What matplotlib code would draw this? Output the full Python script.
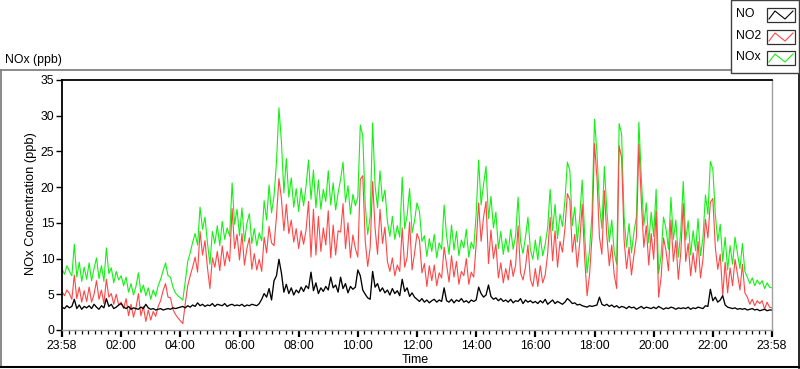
import numpy as np
import matplotlib
matplotlib.use('Agg')
import matplotlib.pyplot as plt
from matplotlib.lines import Line2D
from matplotlib.patches import Rectangle
from matplotlib.ticker import MultipleLocator, AutoMinorLocator

plt.rcParams['font.family'] = ['Liberation Sans', 'DejaVu Sans']

W, H = 800, 369

# readings every 5 minutes, one row per hour, starting at 23:58
no = [
    3.2, 3.0, 3.4, 3.1, 3.3, 4.3, 3.0, 3.5, 2.9, 3.3, 3.1, 3.4,
    3.0, 3.6, 3.2, 2.9, 3.4, 3.1, 4.4, 3.3, 3.6, 3.0, 3.2, 3.5,
    3.7, 3.2, 3.0, 3.3, 2.9, 3.1, 3.0, 2.9, 3.2, 3.0, 3.6, 3.1,
    2.9, 3.0, 2.8, 2.9, 3.0, 2.8, 2.9, 3.0, 2.9, 3.1, 3.0, 3.1,
    3.2, 3.3, 3.1, 3.4, 3.2, 3.5, 3.3, 3.8, 3.4, 3.6, 3.3, 3.5,
    3.4, 3.7, 3.3, 3.6, 3.5, 3.4, 3.7, 3.3, 3.5, 3.6, 3.4, 3.5,
    3.4, 3.6, 3.3, 3.5, 3.4, 3.6, 3.5, 3.4, 3.7, 4.3, 5.1, 4.6,
    5.8, 4.2, 6.9, 7.6, 9.9, 8.0, 5.3, 6.4, 5.1, 5.9, 4.9, 5.6,
    5.2, 6.0, 5.4, 6.2, 5.8, 8.1, 5.5, 6.6, 5.1, 5.9, 5.4, 6.1,
    5.6, 7.4, 5.9, 6.3, 5.3, 7.4, 5.8, 6.5, 5.2, 6.1, 5.7, 6.0,
    8.4, 7.6, 5.6, 5.0, 4.5, 4.3, 8.2, 6.0, 6.5, 5.4, 5.9, 5.2,
    5.6, 4.9, 5.8, 5.1, 5.5, 4.8, 7.1, 5.4, 5.9, 4.7, 5.2, 4.6,
    4.3, 4.0, 4.4, 3.9, 4.2, 3.8, 4.1, 4.3, 3.9, 4.2, 4.0, 5.9,
    4.1, 3.9, 4.3, 3.8, 4.2, 4.0, 4.4, 3.9, 4.1, 3.8, 4.2, 4.0,
    4.2, 6.0, 5.1, 4.6, 4.9, 6.3, 4.7, 4.3, 4.5, 4.1, 4.4, 4.0,
    4.2, 3.9, 4.3, 3.8, 4.1, 4.0, 4.4, 3.7, 4.2, 3.9, 4.1, 3.8,
    4.0, 3.7, 4.1, 3.8, 4.3, 3.6, 3.9, 4.2, 3.7, 4.0, 3.8, 3.6,
    3.9, 4.4, 4.1, 3.7, 3.8, 3.5, 3.6, 3.4, 3.3, 3.2, 3.4, 3.3,
    3.4, 3.5, 4.6, 3.6, 3.4, 3.6, 3.3, 3.5, 3.2, 3.4, 3.1, 3.3,
    3.2, 3.0, 3.3, 3.1, 3.2, 2.9, 3.1, 3.3, 3.0, 3.2, 3.1, 3.0,
    3.2, 3.0, 3.3, 3.1, 2.9, 3.1, 3.0, 3.2, 3.1, 2.9, 3.1, 3.0,
    3.1, 3.0, 3.2, 2.9, 3.1, 3.0, 3.2, 3.1, 3.0, 3.4, 3.3, 5.7,
    4.1, 4.6, 3.9, 4.2, 4.8, 3.5, 3.2, 3.1, 3.0, 3.1, 2.9, 3.0,
    2.9, 3.0, 2.8, 2.9, 3.0, 2.8, 2.9, 2.7, 2.8, 2.9, 2.7, 2.8,
    2.8,
]
no2 = [
    5.4, 4.8, 5.6, 5.1, 4.3, 7.7, 4.4, 6.0, 3.9, 5.5, 4.0, 6.0,
    3.9, 5.0, 6.9, 4.3, 5.6, 3.7, 7.1, 4.6, 5.1, 3.6, 5.0, 3.5,
    3.9, 3.0, 4.4, 2.0, 3.6, 1.8, 3.1, 5.1, 2.0, 3.3, 1.2, 2.8,
    1.4, 2.6, 1.9, 3.3, 4.1, 5.5, 6.5, 4.6, 4.5, 2.9, 2.2, 1.7,
    1.3, 0.9, 3.7, 6.2, 7.6, 8.8, 10.2, 8.1, 13.8, 10.5, 12.5, 8.7,
    5.8, 10.1, 8.8, 11.0, 8.3, 11.8, 9.0, 11.0, 9.6, 17.0, 11.4, 13.4,
    9.8, 13.5, 9.1, 11.4, 12.9, 8.5, 10.7, 8.4, 9.9, 8.2, 13.0, 10.8,
    14.5, 12.2, 11.8, 15.9, 21.2, 18.4, 13.9, 17.6, 13.5, 15.4, 12.3, 14.2,
    11.4, 13.9, 12.0, 14.0, 18.0, 10.2, 16.9, 10.5, 15.9, 11.0, 14.3, 11.9,
    16.7, 10.1, 14.7, 10.5, 13.9, 13.7, 17.7, 11.4, 15.0, 10.1, 13.3, 11.4,
    10.2, 21.1, 21.6, 12.5, 8.9, 11.5, 20.8, 14.2, 10.6, 16.9, 12.1, 14.4,
    9.6, 8.2, 10.1, 7.6, 9.1, 8.2, 14.3, 8.8, 10.2, 15.1, 8.4, 10.7,
    13.5, 12.6, 8.0, 9.3, 6.1, 9.0, 6.9, 9.1, 6.2, 8.0, 7.3, 11.6,
    9.1, 6.7, 10.4, 7.4, 9.6, 6.4, 8.2, 7.6, 10.0, 6.4, 8.1, 7.4,
    12.0, 17.8, 12.4, 15.8, 18.0, 9.3, 14.0, 10.0, 12.0, 7.3, 9.4, 6.6,
    8.6, 7.0, 9.8, 7.5, 9.1, 14.6, 8.0, 7.0, 8.8, 11.9, 7.1, 6.1,
    8.6, 6.1, 9.0, 6.6, 7.7, 10.7, 15.8, 9.7, 13.9, 8.8, 12.4, 10.9,
    14.2, 19.1, 18.2, 10.9, 13.4, 8.8, 12.2, 17.6, 10.1, 4.8, 7.8, 13.1,
    26.1, 21.3, 13.0, 10.6, 19.5, 13.2, 9.0, 11.9, 7.7, 5.8, 25.8, 24.1,
    12.6, 8.6, 11.6, 7.7, 10.5, 13.0, 26.0, 18.0, 11.6, 14.6, 9.1, 13.5,
    9.9, 16.7, 4.6, 7.3, 12.9, 11.1, 8.3, 15.4, 9.6, 12.5, 7.1, 10.8,
    17.7, 9.6, 12.1, 7.6, 10.8, 8.1, 12.4, 7.3, 9.9, 15.5, 12.9, 17.9,
    18.4, 11.6, 8.5, 10.6, 4.8, 9.5, 5.2, 8.7, 6.2, 9.9, 7.8, 5.6,
    9.2, 5.2, 4.6, 3.6, 4.3, 3.4, 4.1, 3.7, 4.1, 2.9, 3.9, 3.2,
    3.1,
]
nox = [
    8.6, 7.8, 9.0, 8.2, 7.6, 12.0, 7.4, 9.5, 6.8, 8.8, 7.1, 9.4,
    6.9, 8.6, 10.1, 7.2, 9.0, 6.8, 11.5, 7.9, 8.7, 6.6, 8.2, 7.0,
    7.6, 6.2, 7.4, 5.3, 6.5, 4.9, 6.1, 8.0, 5.2, 6.3, 4.8, 5.9,
    4.3, 5.6, 4.7, 6.2, 7.1, 8.3, 9.4, 7.6, 7.4, 6.0, 5.2, 4.8,
    4.5, 4.2, 6.8, 9.6, 10.8, 12.3, 13.5, 11.9, 17.2, 14.1, 15.8, 12.2,
    9.2, 13.8, 12.1, 14.6, 11.8, 15.2, 12.7, 14.3, 13.1, 20.6, 14.8, 16.9,
    13.2, 17.1, 12.4, 14.9, 16.3, 12.1, 14.2, 11.8, 13.6, 12.5, 18.1, 15.4,
    20.3, 16.4, 18.7, 23.5, 31.1, 26.4, 19.2, 24.0, 18.6, 21.3, 17.2, 19.8,
    16.6, 19.9, 17.4, 20.2, 23.8, 18.3, 22.4, 17.1, 21.0, 16.9, 19.7, 18.0,
    22.3, 17.5, 20.6, 16.8, 19.2, 21.1, 23.5, 17.9, 20.2, 16.2, 19.0, 17.4,
    18.6, 28.7, 27.2, 17.5, 13.4, 15.8, 29.0, 20.2, 17.1, 22.3, 18.0, 19.6,
    15.2, 13.1, 15.9, 12.7, 14.6, 13.0, 21.4, 14.2, 16.1, 19.8, 13.6, 15.3,
    17.8, 16.6, 12.4, 13.2, 10.3, 12.8, 11.0, 13.4, 10.1, 12.2, 11.3, 17.5,
    13.2, 10.6, 14.7, 11.2, 13.8, 10.4, 12.6, 11.5, 14.1, 10.2, 12.3, 11.4,
    16.2, 23.8, 17.5, 20.4, 22.9, 15.6, 18.7, 14.3, 16.5, 11.4, 13.8, 10.6,
    12.8, 10.9, 14.1, 11.3, 13.2, 18.6, 12.4, 10.7, 13.0, 15.8, 11.2, 9.9,
    12.6, 9.8, 13.1, 10.4, 12.0, 14.3, 19.7, 13.9, 17.6, 12.8, 16.2, 14.5,
    18.1, 23.5, 22.3, 14.6, 17.2, 12.3, 15.8, 21.0, 13.4, 8.0, 11.2, 16.4,
    29.5, 24.8, 17.6, 14.2, 22.9, 16.8, 12.3, 15.4, 10.9, 9.2, 28.9, 27.4,
    15.8, 11.6, 14.9, 10.8, 13.7, 15.9, 29.1, 21.3, 14.6, 17.8, 12.2, 16.5,
    13.1, 19.7, 7.9, 10.4, 15.8, 14.2, 11.3, 18.6, 12.7, 15.4, 10.2, 13.8,
    20.8, 12.6, 15.3, 10.5, 13.9, 11.1, 15.6, 10.4, 12.9, 18.9, 16.2, 23.6,
    22.5, 16.2, 12.4, 14.8, 9.6, 13.0, 8.4, 11.8, 9.2, 13.0, 10.7, 8.6,
    12.1, 8.2, 7.4, 6.5, 7.3, 6.2, 7.0, 6.4, 6.9, 5.8, 6.6, 6.0,
    5.9,
]
time_labels = ['23:58', '02:00', '04:00', '06:00', '08:00', '10:00', '12:00',
               '14:00', '16:00', '18:00', '20:00', '22:00', '23:58']

hours = np.arange(len(nox)) * 5 / 60.0


def fx(x):
    return x / W


def fy(y):
    return 1 - y / H


fig = plt.figure(figsize=(W / 100, H / 100), dpi=100)
fig.patch.set_facecolor('white')

ax = fig.add_axes([fx(62), fy(330), 710 / W, 250 / H])
ax.plot(hours, nox, color='#14f014', lw=0.8)
ax.plot(hours, no2, color='#ff4646', lw=0.8)
ax.plot(hours, no, color='black', lw=0.95)

ax.set_xlim(0, 24)
ax.set_ylim(0, 35)
ax.yaxis.set_major_locator(MultipleLocator(5))
ax.set_xticks(np.arange(0, 25, 2))
ax.set_xticklabels(time_labels)
ax.xaxis.set_minor_locator(AutoMinorLocator(9))

for s in ['left', 'top']:
    ax.spines[s].set_color('black')
    ax.spines[s].set_linewidth(1.3)
for s in ['right', 'bottom']:
    ax.spines[s].set_color('#a0a0a0')
    ax.spines[s].set_linewidth(1.0)

ax.tick_params(axis='y', direction='out', length=4, width=1, labelsize=8.8, pad=1.5)
ax.tick_params(axis='x', which='major', direction='out', length=5, width=1.6,
               labelsize=8.8, pad=2.5)
ax.tick_params(axis='x', which='minor', direction='out', length=3, width=0.9)

fig.text(fx(31), fy(204), 'NOx Concentration (ppb)', rotation=90, fontsize=9.3,
         ha='center', va='center')
fig.text(fx(415), fy(360), 'Time', fontsize=9, ha='center', va='center')
fig.text(fx(5), fy(60), 'NOx (ppb)', fontsize=8.8, ha='left', va='center')

# outer frame
fig.add_artist(Line2D([fx(0), fx(731)], [fy(69.5), fy(69.5)], color='#808080', lw=1.3))
fig.add_artist(Line2D([fx(0.7), fx(0.7)], [fy(69.5), fy(367)], color='#808080', lw=1.3))
fig.add_artist(Line2D([fx(0), fx(800)], [fy(367.3), fy(367.3)], color='black', lw=1.5))
fig.add_artist(Line2D([fx(799.3), fx(799.3)], [fy(0), fy(368)], color='black', lw=1.2))

# legend box
fig.add_artist(Rectangle((fx(731), fy(72.5)), 68 / W, 72.5 / H, transform=fig.transFigure,
                         facecolor='white', edgecolor='#404040', lw=1.0, zorder=5))
entries = [('NO', 'black', 8), ('NO2', '#ff4646', 30), ('NOx', '#14f014', 51)]
for name, col, top in entries:
    fig.text(fx(736), fy(top + 6), name, fontsize=8.8, ha='left', va='center', zorder=6)
    fig.add_artist(Rectangle((fx(767), fy(top + 14)), 28 / W, 14 / H,
                             transform=fig.transFigure, facecolor='white',
                             edgecolor='#303030', lw=0.9, zorder=6))
    fig.add_artist(Line2D([fx(769), fx(775), fx(785), fx(793)],
                          [fy(top + 11), fy(top + 3), fy(top + 11), fy(top + 3)],
                          color=col, lw=0.8, zorder=7))

fig.savefig('out.png', dpi=100)
